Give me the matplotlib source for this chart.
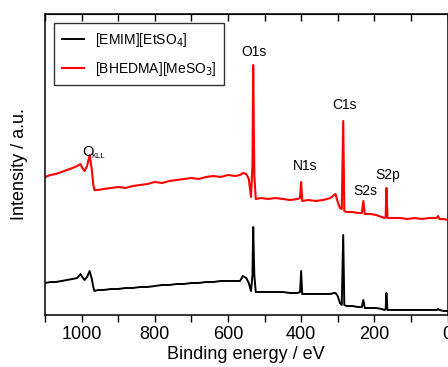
import matplotlib
matplotlib.use("Agg")
import matplotlib.pyplot as plt
from matplotlib.ticker import MultipleLocator

plt.rcParams['font.family'] = ['Liberation Sans', 'DejaVu Sans']

# XPS survey spectra (binding energy in eV, intensity in a.u.)
red_energy = [1100, 1085, 1070, 1055, 1040, 1025, 1012, 1003, 998, 992, 985, 978, 972, 968, 965,
              955, 940, 920, 900, 880, 860, 840, 820, 800, 780, 760, 740, 720, 700, 680,
              660, 640, 620, 600, 580, 567, 559, 550, 543, 537, 533, 531, 528, 524,
              510, 490, 470, 450, 430, 410, 403, 400, 397, 380, 360, 340, 320, 310, 306,
              300, 294, 289, 285, 282, 276, 260, 245, 234, 230, 226, 210, 195, 180, 172,
              169, 167, 164, 150, 130, 110, 90, 70, 50, 30, 26, 22, 10, 0]
red_int = [138, 140, 141, 143, 145, 147, 149, 151, 147, 144, 149, 160, 145, 130, 125,
           125, 126, 127, 128, 127, 129, 130, 131, 133, 132, 134, 135, 136, 137, 136,
           138, 139, 138, 140, 139, 140, 142, 141, 136, 118, 150, 250, 140, 116,
           117, 116, 117, 116, 115, 116, 117, 133, 114, 115, 114, 115, 117, 120, 121,
           113, 107, 106, 194, 104, 103, 103, 102, 102, 114, 101, 101, 100, 98, 97,
           98, 127, 97, 97, 97, 96, 97, 96, 97, 97, 99, 96, 96, 95]

black_energy = [1100, 1085, 1070, 1055, 1040, 1025, 1012, 1003, 998, 992, 985, 978, 972, 968, 965,
                955, 940, 920, 900, 880, 860, 840, 820, 800, 780, 760, 740, 720, 700, 680,
                660, 640, 620, 600, 580, 567, 559, 550, 543, 537, 533, 531, 528, 524,
                510, 490, 470, 450, 430, 410, 403, 400, 397, 380, 360, 340, 320, 310, 306,
                300, 294, 289, 285, 282, 276, 260, 245, 234, 230, 226, 210, 195, 180, 172,
                169, 167, 164, 150, 130, 110, 90, 70, 50, 30, 26, 22, 10, 0]
black_int = [32, 33, 33, 34, 35, 36, 37, 41, 38, 35, 38, 44, 36, 28, 24,
             25, 25, 26, 26, 27, 27, 28, 28, 29, 30, 30, 31, 31, 32, 32,
             33, 33, 34, 34, 34, 34, 39, 37, 32, 24, 40, 88, 40, 23,
             23, 23, 23, 23, 22, 22, 23, 44, 21, 21, 21, 21, 21, 22, 22,
             19, 12, 10, 80, 10, 9, 9, 8, 8, 15, 7, 7, 7, 6, 5,
             6, 22, 5, 5, 5, 5, 5, 5, 5, 5, 6, 5, 4, 4]

peak_labels = ['O1s', 'N1s', 'C1s', 'S2s', 'S2p']
peak_label_x = [529, 389, 282, 225, 164]
peak_label_y = [263, 149, 210, 124, 140]

fig = plt.figure(figsize=(4.48, 3.67), dpi=100)
ax = fig.add_axes([45 / 448, 52 / 367, 402.5 / 448, 301 / 367])

ax.plot(black_energy, black_int, color='black', lw=1.4, label='[EMIM][EtSO$_4$]')
ax.plot(red_energy, red_int, color='#ff0000', lw=1.5, label='[BHEDMA][MeSO$_3$]')

ax.set_xlim(1100, 0)
ax.set_ylim(0, 301)
ax.xaxis.set_major_locator(MultipleLocator(200))
ax.xaxis.set_minor_locator(MultipleLocator(100))
ax.tick_params(axis='x', which='both', direction='out', length=5, width=1,
               labelsize=13, pad=3)
ax.set_yticks([])

top = ax.secondary_xaxis('top')
top.xaxis.set_major_locator(MultipleLocator(100))
top.tick_params(axis='x', which='both', direction='in', length=5, width=1, labeltop=False)

for s in ax.spines.values():
    s.set_linewidth(1.1)

ax.set_xlabel('Binding energy / eV', fontsize=13, labelpad=2)
ax.set_ylabel('Intensity / a.u.', fontsize=13, labelpad=12)

for lab, x, y in zip(peak_labels, peak_label_x, peak_label_y):
    ax.text(x, y, lab, fontsize=10, ha='center', va='center')
ax.text(984, 163, 'O', fontsize=10.5, ha='center', va='center')
ax.text(972, 158, 'KLL', fontsize=5.5, ha='left', va='center')

leg = ax.legend(loc='upper left', bbox_to_anchor=(9 / 402.5, 1 - 9 / 301), fontsize=10,
                frameon=True, fancybox=False, edgecolor='black', handlelength=1.6,
                handletextpad=0.8, borderpad=0.55, labelspacing=0.8, borderaxespad=0)
leg.get_frame().set_linewidth(1.0)

fig.savefig('out.png', dpi=100)
